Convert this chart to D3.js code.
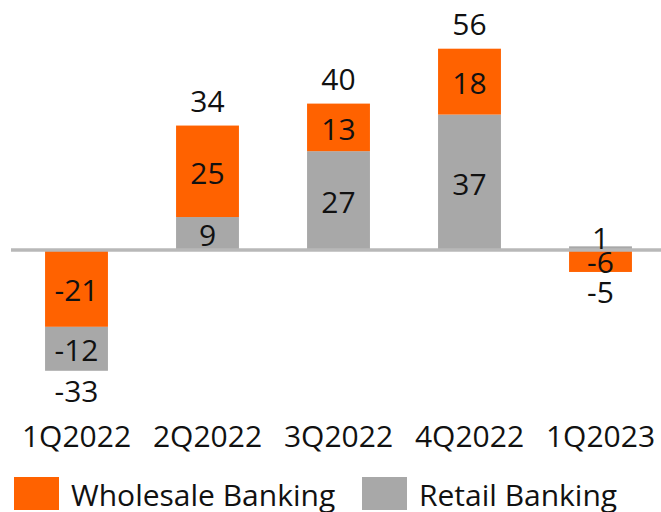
<!DOCTYPE html>
<html>
<head>
<meta charset="utf-8">
<script src="https://cdn.jsdelivr.net/npm/d3@7"></script>
<style>
  body { margin: 0; background: #fff; }
  text { font-family: "Open Sans", "Noto Sans", sans-serif; fill: #111; }
</style>
</head>
<body>
<div id="chart"></div>
<script>
// Net result by business line, per quarter
const quarters = ["1Q2022", "2Q2022", "3Q2022", "4Q2022", "1Q2023"];
const retail = [-12, 9, 27, 37, 1];
const wholesale = [-21, 25, 13, 18, -6];
const totals = [-33, 34, 40, 56, -5];

const width = 661;
const height = 512;
const orange = "#ff6200";
const grey = "#a8a8a8";

const svg = d3.select("#chart").append("svg")
  .attr("width", width)
  .attr("height", height);

const x = d3.scaleBand()
  .domain(quarters)
  .range([11, 666])
  .paddingInner(0.52)
  .paddingOuter(0.26);

const y = d3.scaleLinear()
  .domain([-40, 60])
  .range([396.4, 30.4]);

// stack by hand: positives go up retail first, negatives go down wholesale first
let segs = [];
quarters.forEach((q, i) => {
  let up = 0, down = 0;
  let parts = [
    { key: "retail", v: retail[i], color: grey },
    { key: "wholesale", v: wholesale[i], color: orange }
  ];
  parts.filter(p => p.v >= 0).forEach(p => {
    segs.push({ q: q, v: p.v, color: p.color, y0: up, y1: up + p.v });
    up += p.v;
  });
  parts.slice().reverse().filter(p => p.v < 0).forEach(p => {
    segs.push({ q: q, v: p.v, color: p.color, y0: down, y1: down + p.v });
    down += p.v;
  });
});

svg.selectAll(".seg")
  .data(segs)
  .enter()
  .append("rect")
  .attr("class", "seg")
  .attr("x", d => x(d.q))
  .attr("width", x.bandwidth())
  .attr("y", d => y(Math.max(d.y0, d.y1)))
  .attr("height", d => Math.abs(y(d.y0) - y(d.y1)))
  .attr("fill", d => d.color);

// zero line
svg.append("line")
  .attr("x1", 11)
  .attr("x2", width)
  .attr("y1", y(0))
  .attr("y2", y(0))
  .attr("stroke", "#b8b8b8")
  .attr("stroke-width", 3.5);

// segment labels (tiny segments get the label just outside)
svg.selectAll(".seglabel")
  .data(segs)
  .enter()
  .append("text")
  .attr("class", "seglabel")
  .attr("x", d => x(d.q) + x.bandwidth() / 2)
  .attr("y", d => {
    let h = Math.abs(y(d.y0) - y(d.y1));
    if (h < 15) return y(d.y1) - 9;
    return y((d.y0 + d.y1) / 2) + 1;
  })
  .attr("text-anchor", "middle")
  .attr("dominant-baseline", "central")
  .style("font-size", "30px")
  .text(d => d.v);

// totals
svg.selectAll(".total")
  .data(quarters)
  .enter()
  .append("text")
  .attr("class", "total")
  .attr("x", d => x(d) + x.bandwidth() / 2)
  .attr("y", (d, i) => {
    let pos = d3.sum([retail[i], wholesale[i]].filter(v => v > 0));
    let neg = d3.sum([retail[i], wholesale[i]].filter(v => v < 0));
    return totals[i] >= 0 ? y(pos) - 25 : y(neg) + 20;
  })
  .attr("text-anchor", "middle")
  .attr("dominant-baseline", "central")
  .style("font-size", "30px")
  .text((d, i) => totals[i]);

// category axis
const xAxis = d3.axisBottom(x).tickSize(0).tickPadding(0);
const ax = svg.append("g")
  .attr("transform", "translate(0,426)")
  .call(xAxis);
ax.select(".domain").remove();
ax.selectAll("text")
  .attr("dy", "0.71em")
  .style("font-family", "'Open Sans', 'Noto Sans', sans-serif")
  .style("font-size", "30px")
  .style("fill", "#111");

// legend
const legendItems = [
  { name: "Wholesale Banking", color: orange, x: 14 },
  { name: "Retail Banking", color: grey, x: 362 }
];
const legend = svg.selectAll(".legend")
  .data(legendItems)
  .enter()
  .append("g")
  .attr("class", "legend")
  .attr("transform", d => "translate(" + d.x + ",477)");

legend.append("rect")
  .attr("width", 45)
  .attr("height", 33)
  .attr("fill", d => d.color);

legend.append("text")
  .attr("x", 57)
  .attr("y", 17)
  .attr("dominant-baseline", "central")
  .style("font-size", "30px")
  .text(d => d.name);
</script>
</body>
</html>
